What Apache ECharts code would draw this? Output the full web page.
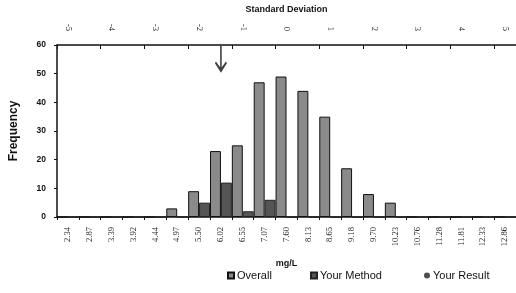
<!DOCTYPE html>
<html>
<head>
<meta charset="utf-8">
<script src="https://cdn.jsdelivr.net/npm/echarts@6/dist/echarts.min.js"></script>
<style>
  html, body { margin: 0; padding: 0; background: #fff; }
  #freqChart { width: 516px; height: 293px; }
</style>
</head>
<body>
<div id="freqChart"></div>
<script>
// bins in mg/L (bottom axis)
var mgCats = ['2.34', '2.87', '3.39', '3.92', '4.44', '4.97', '5.50', '6.02', '6.55', '7.07', '7.60',
	'8.13', '8.65', '9.18', '9.70', '10.23', '10.76', '11.28', '11.81', '12.33', '12.86'];
// same bins in standard deviations (top axis)
var sdCats = ['-5', '-4.5', '-4', '-3.5', '-3', '-2.5', '-2', '-1.5', '-1', '-0.5', '0',
	'0.5', '1', '1.5', '2', '2.5', '3', '3.5', '4', '4.5', '5'];
var overall = [0, 0, 0, 0, 0, 3, 9, 23, 25, 47, 49, 44, 35, 17, 8, 5, 0, 0, 0, 0, 0];
var yourMethod = [0, 0, 0, 0, 0, 0, 5, 12, 2, 6, 0, 0, 0, 0, 0, 0, 0, 0, 0, 0, 0];
// your result, placed on the SD axis
var yourResult = [['-1.5', 55]];

var myChart = echarts.init(document.getElementById('freqChart'));

var boldText = {
	fontFamily: 'Liberation Sans',
	fontWeight: 'bold',
	color: '#111'
};

// one legend per item so each can sit where the original has it
function legendAt(left, item) {
	return {
		bottom: 7,
		left: left,
		itemWidth: 6,
		itemHeight: 6,
		itemGap: 3,
		textStyle: {
			fontFamily: 'Liberation Sans',
			fontSize: 11,
			color: '#111',
			padding: [0, 0, 0, -2]
		},
		data: [item]
	};
}

var option = {
	animation: false,
	grid: {
		left: 57,
		right: 0,
		top: 40,
		bottom: 76
	},
	legend: [
		legendAt(222, { name: 'Overall', icon: 'rect' }),
		legendAt(305, { name: 'Your Method', icon: 'rect' }),
		legendAt(419, { name: 'Your Result', icon: 'circle', itemStyle: { color: '#222', borderWidth: 0 } })
	],
	xAxis: [{
		type: 'category',
		data: mgCats,
		position: 'bottom',
		name: 'mg/L',
		nameLocation: 'middle',
		nameGap: 42,
		nameTextStyle: Object.assign({ fontSize: 9 }, boldText),
		axisLine: { lineStyle: { color: '#111', width: 1.5 } },
		axisTick: { show: true, length: 3, lineStyle: { color: '#111' } },
		axisLabel: {
			interval: 0,
			rotate: 90,
			fontFamily: 'Liberation Serif',
			fontSize: 8.5,
			color: '#222',
			margin: 10
		},
		splitLine: { show: false }
	}, {
		type: 'category',
		data: sdCats,
		position: 'top',
		name: 'Standard Deviation',
		nameLocation: 'middle',
		nameGap: 31,
		nameTextStyle: Object.assign({ fontSize: 9 }, boldText),
		axisLine: { lineStyle: { color: '#111', width: 1.5 } },
		axisTick: { show: true, inside: true, length: 4, lineStyle: { color: '#111' } },
		axisLabel: {
			interval: 1,
			rotate: 90,
			fontFamily: 'Liberation Serif',
			fontSize: 8.5,
			color: '#222',
			margin: 14
		},
		splitLine: { show: false }
	}],
	yAxis: {
		type: 'value',
		min: 0,
		max: 60,
		interval: 10,
		name: 'Frequency',
		nameLocation: 'middle',
		nameGap: 37,
		nameTextStyle: Object.assign({ fontSize: 12 }, boldText),
		axisLine: { show: true, lineStyle: { color: '#111', width: 1.5 } },
		axisTick: { show: true, length: 3, lineStyle: { color: '#111' } },
		axisLabel: Object.assign({ fontSize: 8.5, margin: 11 }, boldText),
		splitLine: { show: false }
	},
	series: [{
		name: 'Overall',
		type: 'bar',
		xAxisIndex: 0,
		barGap: '0%',
		barCategoryGap: '0%',
		itemStyle: {
			color: '#8a8a8a',
			borderColor: '#111',
			borderWidth: 1
		},
		data: overall
	}, {
		name: 'Your Method',
		type: 'bar',
		xAxisIndex: 0,
		itemStyle: {
			color: '#555',
			borderColor: '#222',
			borderWidth: 1
		},
		data: yourMethod
	}, {
		name: 'Your Result',
		type: 'scatter',
		xAxisIndex: 1,
		symbol: 'path://M5.2,0 L6.8,0 L6.8,19 L11,14 L12,15.5 L6,24 L0,15.5 L1,14 L5.2,19 Z',
		symbolSize: [12, 27],
		itemStyle: { color: '#111' },
		data: yourResult
	}]
};

myChart.setOption(option);
window.onresize = myChart.resize;
</script>
</body>
</html>
